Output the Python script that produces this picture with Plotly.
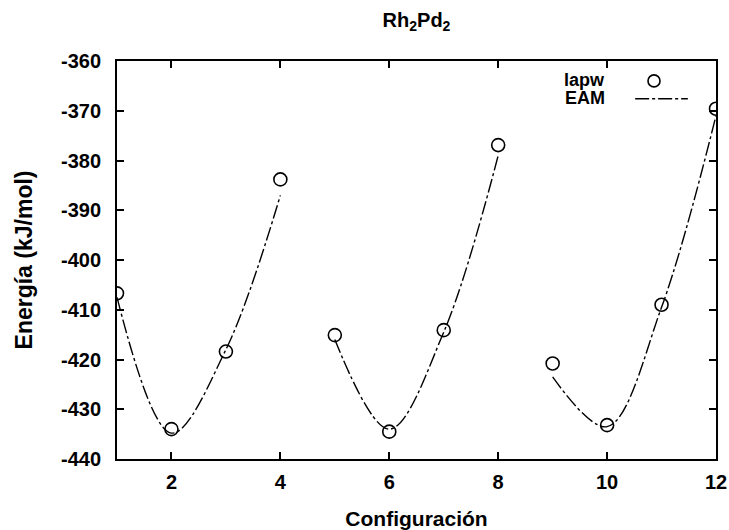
import plotly.graph_objects as go

# lapw reference points
config = [1, 2, 3, 4, 5, 6, 7, 8, 9, 10, 11, 12]
lapw = [-406.7, -434.0, -418.4, -383.8, -415.1, -434.5, -414.1, -376.9,
        -420.8, -433.2, -409.0, -369.6]

# EAM fitted curves (three groups)
eam_x1 = [1, 2, 3, 4]
eam_y1 = [-407.5, -434.8, -418.0, -387.0]
eam_x2 = [5, 6, 7, 8]
eam_y2 = [-416.0, -434.0, -414.5, -379.0]
eam_x3 = [9, 10, 11, 12]
eam_y3 = [-423.5, -433.5, -409.5, -371.0]

xticks = [2, 4, 6, 8, 10, 12]
yticks = [-440, -430, -420, -410, -400, -390, -380, -370, -360]

FONT = "Liberation Sans, Arial, sans-serif"
dash = "14px,3px,3px,3px"

fig = go.Figure()
for xs, ys in [(eam_x1, eam_y1), (eam_x2, eam_y2), (eam_x3, eam_y3)]:
    fig.add_trace(go.Scatter(x=xs, y=ys, mode="lines",
                             line=dict(color="black", width=1.4, dash=dash, shape="spline", smoothing=1.0),
                             showlegend=False, hoverinfo="skip"))
fig.add_trace(go.Scatter(x=config, y=lapw, mode="markers",
                         marker=dict(symbol="circle-open", size=13, color="black",
                                     line=dict(width=1.6, color="black")),
                         showlegend=False))

tickfont = dict(family=FONT, size=20, color="black", weight="bold")
axis_common = dict(showgrid=False, zeroline=False, showline=True, linecolor="black", linewidth=1.8,
                   mirror="ticks", ticks="inside", ticklen=7, tickwidth=1.5, tickcolor="black",
                   tickfont=tickfont, automargin=False)

fig.update_xaxes(range=[1, 12], tickvals=xticks, ticktext=[str(v) for v in xticks],
                 ticklabelstandoff=4,
                 title=dict(text="Configuración", font=dict(family=FONT, size=21, color="black", weight="bold"),
                            standoff=20),
                 **axis_common)
fig.update_yaxes(range=[-440, -360], tickvals=yticks, ticktext=[str(v) for v in yticks],
                 ticklabelstandoff=10,
                 title=dict(text="Energía (kJ/mol)", font=dict(family=FONT, size=23, color="black", weight="bold"),
                            standoff=22),
                 **axis_common)

# gnuplot-style key: text on the left, sample on the right
keyfont = dict(family=FONT, size=18, color="black", weight="bold")
fig.add_annotation(x=0.818, y=0.952, xref="paper", yref="paper", text="lapw", showarrow=False,
                   xanchor="right", yanchor="middle", font=keyfont)
fig.add_annotation(x=0.818, y=0.907, xref="paper", yref="paper", text="EAM", showarrow=False,
                   xanchor="right", yanchor="middle", font=keyfont)
fig.add_shape(type="circle", xref="paper", yref="paper", xsizemode="pixel", ysizemode="pixel",
              xanchor=0.8965, yanchor=0.950, x0=-6, x1=6, y0=-6, y1=6,
              line=dict(color="black", width=1.6))
fig.add_shape(type="line", xref="paper", yref="paper", x0=0.865, x1=0.953, y0=0.905, y1=0.905,
              line=dict(color="black", width=1.4, dash=dash))

fig.update_layout(
    width=729, height=530,
    margin=dict(l=117, r=13, t=61, b=71),
    paper_bgcolor="white", plot_bgcolor="white",
    title=dict(text="Rh<sub>2</sub>Pd<sub>2</sub>", xref="paper", x=0.5, xanchor="center",
               y=0.962, yanchor="middle",
               font=dict(family=FONT, size=20, color="black", weight="bold")),
    font=dict(family=FONT, color="black"),
)

fig.write_html("out.html")
